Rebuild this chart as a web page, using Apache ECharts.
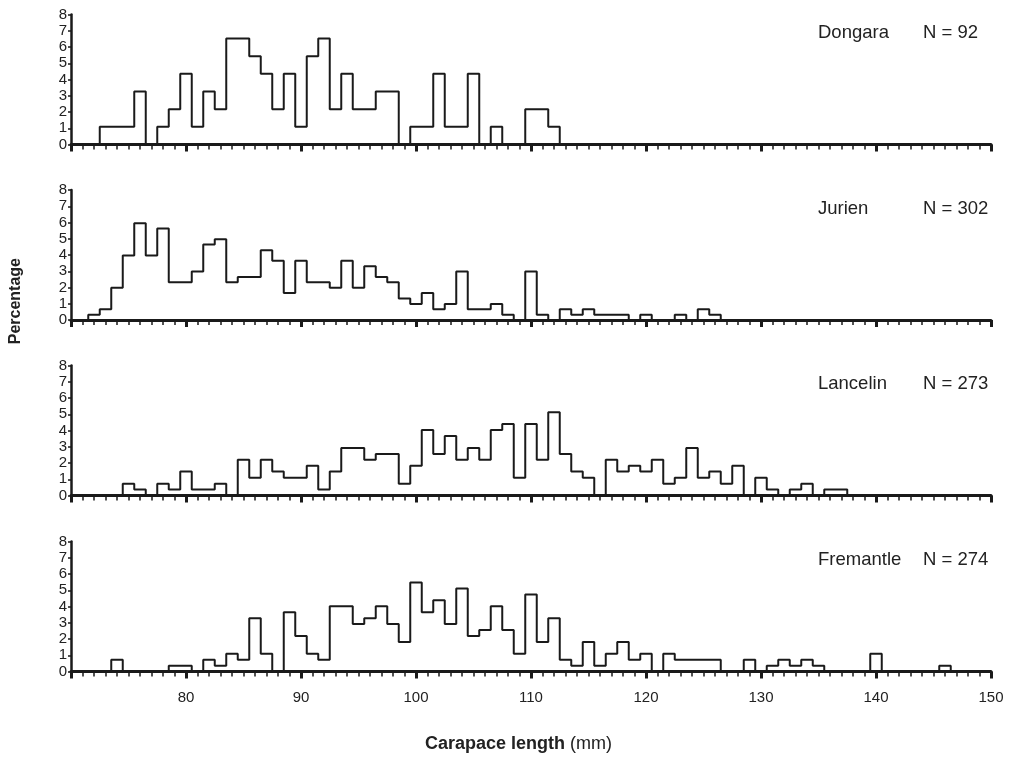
<!DOCTYPE html>
<html>
<head>
<meta charset="utf-8">
<title>Carapace length</title>
<script src="https://cdn.jsdelivr.net/npm/echarts@6.0.0/dist/echarts.min.js"></script>
<style>
  html, body { margin: 0; padding: 0; background: #fff; }
  #lengthChart { width: 1009px; height: 759px; }
</style>
</head>
<body>
<div id="lengthChart"></div>
<script>
// 1 mm size classes (bin centres), 71 .. 147 mm
const binCentres = [
  71, 72, 73, 74, 75, 76, 77, 78, 79, 80,
  81, 82, 83, 84, 85, 86, 87, 88, 89, 90,
  91, 92, 93, 94, 95, 96, 97, 98, 99, 100,
  101, 102, 103, 104, 105, 106, 107, 108, 109, 110,
  111, 112, 113, 114, 115, 116, 117, 118, 119, 120,
  121, 122, 123, 124, 125, 126, 127, 128, 129, 130,
  131, 132, 133, 134, 135, 136, 137, 138, 139, 140,
  141, 142, 143, 144, 145, 146, 147
];

// percentage of each sample in every size class
const dongara = [
  0, 0, 1.09, 1.09, 1.09, 3.26, 0, 1.09, 2.17, 4.35,
  1.09, 3.26, 2.17, 6.52, 6.52, 5.43, 4.35, 2.17, 4.35, 1.09,
  5.43, 6.52, 2.17, 4.35, 2.17, 2.17, 3.26, 3.26, 0, 1.09,
  1.09, 4.35, 1.09, 1.09, 4.35, 0, 1.09, 0, 0, 2.17,
  2.17, 1.09, 0, 0, 0, 0, 0, 0, 0, 0,
  0, 0, 0, 0, 0, 0, 0, 0, 0, 0,
  0, 0, 0, 0, 0, 0, 0, 0, 0, 0,
  0, 0, 0, 0, 0, 0, 0
];
const jurien = [
  0, 0.33, 0.66, 1.99, 3.97, 5.96, 3.97, 5.63, 2.32, 2.32,
  2.98, 4.64, 4.97, 2.32, 2.65, 2.65, 4.30, 3.64, 1.66, 3.64,
  2.32, 2.32, 1.99, 3.64, 1.99, 3.31, 2.65, 2.32, 1.32, 0.99,
  1.66, 0.66, 0.99, 2.98, 0.66, 0.66, 0.99, 0.33, 0, 2.98,
  0.33, 0, 0.66, 0.33, 0.66, 0.33, 0.33, 0.33, 0, 0.33,
  0, 0, 0.33, 0, 0.66, 0.33, 0, 0, 0, 0,
  0, 0, 0, 0, 0, 0, 0, 0, 0, 0,
  0, 0, 0, 0, 0, 0, 0
];
const lancelin = [
  0, 0, 0, 0, 0.73, 0.37, 0, 0.73, 0.37, 1.47,
  0.37, 0.37, 0.73, 0, 2.20, 1.10, 2.20, 1.47, 1.10, 1.10,
  1.83, 0.37, 1.47, 2.93, 2.93, 2.20, 2.56, 2.56, 0.73, 1.83,
  4.03, 2.56, 3.66, 2.20, 2.93, 2.20, 4.03, 4.40, 1.10, 4.40,
  2.20, 5.13, 2.56, 1.47, 1.10, 0, 2.20, 1.47, 1.83, 1.47,
  2.20, 0.73, 1.10, 2.93, 1.10, 1.47, 0.73, 1.83, 0, 1.10,
  0.37, 0, 0.37, 0.73, 0, 0.37, 0.37, 0, 0, 0,
  0, 0, 0, 0, 0, 0, 0
];
const fremantle = [
  0, 0, 0, 0.73, 0, 0, 0, 0, 0.36, 0.36,
  0, 0.73, 0.36, 1.09, 0.73, 3.28, 1.09, 0, 3.65, 2.19,
  1.09, 0.73, 4.01, 4.01, 2.92, 3.28, 4.01, 2.92, 1.82, 5.47,
  3.65, 4.38, 2.92, 5.11, 2.19, 2.55, 4.01, 2.55, 1.09, 4.74,
  1.82, 3.28, 0.73, 0.36, 1.82, 0.36, 1.09, 1.82, 0.73, 1.09,
  0, 1.09, 0.73, 0.73, 0.73, 0.73, 0, 0, 0.73, 0,
  0.36, 0.73, 0.36, 0.73, 0.36, 0, 0, 0, 0, 1.09,
  0, 0, 0, 0, 0, 0.36, 0
];

const sites = ['Dongara', 'Jurien', 'Lancelin', 'Fremantle'];
const sampleSizes = ['N = 92', 'N = 302', 'N = 273', 'N = 274'];
const xTickLabels = [80, 90, 100, 110, 120, 130, 140, 150];
const yTickLabels = [0, 1, 2, 3, 4, 5, 6, 7, 8];

const samples = [dongara, jurien, lancelin, fremantle];
const panelTops = [14.5, 190, 365.5, 541.5];
const panelHeight = 130;
const narrow = '"Liberation Sans Narrow", "Arial Narrow", "Liberation Sans", Arial, sans-serif';
const plain = '"Liberation Sans", Arial, Helvetica, sans-serif';
const ink = '#1a1a1a';

let lengthChart = echarts.init(document.getElementById('lengthChart'));

let grids = [], xAxes = [], yAxes = [], series = [], labels = [];
samples.forEach((arr, i) => {
  const last = i === samples.length - 1;
  grids.push({ left: 71, right: 18, top: panelTops[i], height: panelHeight });
  xAxes.push({
    type: 'value', gridIndex: i, min: 70, max: 150, interval: 10,
    axisLine: { lineStyle: { color: ink, width: 3 } },
    axisTick: { length: 7, lineStyle: { color: ink, width: 3 } },
    minorTick: { show: true, splitNumber: 10, length: 5, lineStyle: { color: ink, width: 1.5 } },
    splitLine: { show: false },
    axisLabel: {
      show: last, margin: 19, fontSize: 15, color: '#222', fontFamily: narrow,
      formatter: v => (xTickLabels.includes(v) ? String(v) : '')
    }
  });
  yAxes.push({
    type: 'value', gridIndex: i, min: 0, max: 8, interval: 1,
    axisLine: { show: true, lineStyle: { color: ink, width: 2.5 } },
    axisTick: { show: true, length: 3, lineStyle: { color: ink, width: 1.5 } },
    splitLine: { show: false },
    axisLabel: {
      margin: 4, fontSize: 15, color: '#222', fontFamily: narrow,
      formatter: v => (yTickLabels.includes(v) ? String(v) : '')
    }
  });
  series.push({
    name: sites[i], type: 'line', step: 'middle',
    xAxisIndex: i, yAxisIndex: i,
    showSymbol: false, animation: false,
    lineStyle: { color: ink, width: 2 },
    data: binCentres.map((x, k) => [x, arr[k]])
  });
  // site name and sample size in the top right corner
  labels.push({
    type: 'text', left: 818, top: panelTops[i] + 9,
    style: { text: sites[i], font: '18.5px ' + plain, fill: '#222' }
  });
  labels.push({
    type: 'text', left: 923, top: panelTops[i] + 9,
    style: { text: sampleSizes[i], font: '18.5px ' + plain, fill: '#222' }
  });
});

labels.push({
  type: 'text', left: 8, top: 258, rotation: Math.PI / 2,
  style: { text: 'Percentage', font: 'bold 16px ' + plain, fill: '#222' }
});
labels.push({
  type: 'text', left: 425, top: 735,
  style: {
    text: '{b|Carapace length} (mm)',
    font: '18px ' + plain, fill: '#222',
    rich: { b: { fontWeight: 'bold', fontSize: 18, fontFamily: plain, fill: '#222' } }
  }
});

lengthChart.setOption({
  animation: false,
  grid: grids,
  xAxis: xAxes,
  yAxis: yAxes,
  series: series,
  graphic: labels
});
</script>
</body>
</html>
